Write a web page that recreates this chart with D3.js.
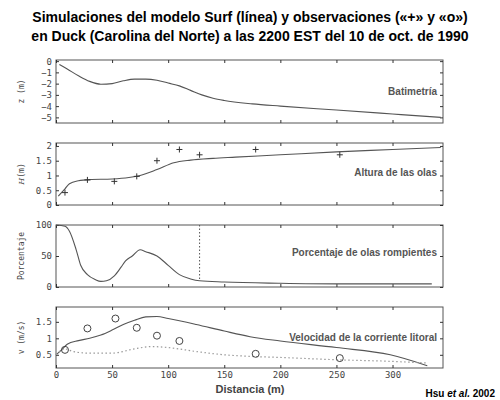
<!DOCTYPE html>
<html><head><meta charset="utf-8">
<script src="https://cdn.jsdelivr.net/npm/d3@7"></script>
<style>body{margin:0;background:#fff}svg{display:block}</style>
</head><body><div id="chart"></div>
<script>
// Data (distance in m)
const bathyX = [3, 10, 20, 30, 40, 50, 60, 70, 80, 90, 100, 110, 120, 130, 140, 150, 175, 200, 250, 300, 343];
const bathyZ = [-0.3, -0.7, -1.3, -1.8, -2.05, -2.0, -1.75, -1.6, -1.6, -1.7, -1.95, -2.2, -2.6, -3.0, -3.3, -3.5, -3.8, -4.0, -4.35, -4.7, -5.0];

const waveX = [2, 8, 12, 20, 30, 50, 65, 75, 90, 105, 120, 140, 160, 200, 250, 300, 343];
const waveH = [0.3, 0.55, 0.72, 0.82, 0.86, 0.88, 0.93, 1.0, 1.2, 1.43, 1.52, 1.58, 1.62, 1.7, 1.8, 1.88, 1.95];
const waveObsX = [8, 28, 52, 72, 90, 110, 128, 178, 253];
const waveObsH = [0.42, 0.85, 0.8, 0.97, 1.5, 1.88, 1.7, 1.88, 1.7];

const breakX = [0, 8, 12, 18, 22, 28, 35, 40, 45, 52, 58, 62, 68, 75, 80, 90, 100, 110, 120, 128, 150, 200, 250, 300, 335];
const breakP = [100, 98, 90, 60, 35, 20, 12, 9, 10, 18, 32, 42, 50, 60, 57, 50, 35, 20, 13, 10, 8, 6, 5, 5, 5];
const breakMark = 128;

const velX = [0, 5, 10, 20, 30, 40, 50, 60, 70, 80, 90, 100, 125, 150, 173, 200, 250, 298, 331];
const velV = [0.5, 0.65, 0.82, 0.93, 1.0, 1.1, 1.25, 1.42, 1.55, 1.65, 1.66, 1.6, 1.42, 1.22, 1.05, 0.92, 0.72, 0.5, 0.17];
const velDotX = [0, 8, 15, 30, 50, 70, 85, 100, 125, 150, 175, 200, 250, 300, 331];
const velDotV = [0.5, 0.68, 0.6, 0.55, 0.55, 0.68, 0.75, 0.72, 0.6, 0.5, 0.45, 0.42, 0.35, 0.3, 0.25];
const velObsX = [8, 28, 53, 72, 90, 110, 178, 253];
const velObsV = [0.65, 1.3, 1.6, 1.32, 1.08, 0.92, 0.53, 0.4];

const xTicks = [0, 50, 100, 150, 200, 250, 300];

const W = 500, H = 400;
const svg = d3.select("#chart").append("svg").attr("width", W).attr("height", H);
const x = d3.scaleLinear().domain([0, 345]).range([56, 443]);
const GRAY = "#555";
const MONO = "'DejaVu Sans Mono', monospace";

svg.append("text").attr("x", 250).attr("y", 22).attr("text-anchor", "middle")
	.style("font-family", "Arial, 'Liberation Sans', sans-serif").style("font-size", "14px").style("font-weight", 700)
	.text("Simulaciones del modelo Surf (línea) y observaciones («+» y «o»)");
svg.append("text").attr("x", 250).attr("y", 41).attr("text-anchor", "middle")
	.style("font-family", "Arial, 'Liberation Sans', sans-serif").style("font-size", "14px").style("font-weight", 700)
	.text("en Duck (Carolina del Norte) a las 2200 EST del 10 de oct. de 1990");

function panel(top, bottom, domain, ticks, fmt, ylabel, label, labelY, italicH) {
	const y = d3.scaleLinear().domain(domain).range([bottom, top]);
	const g = svg.append("g");
	g.append("rect").attr("x", 56).attr("y", top).attr("width", 387).attr("height", bottom - top)
		.attr("fill", "none").attr("stroke", GRAY).attr("stroke-width", 1);
	const axL = g.append("g").attr("transform", "translate(56,0)")
		.call(d3.axisLeft(y).tickValues(ticks).tickFormat(fmt).tickSize(-3).tickPadding(4));
	const axR = g.append("g").attr("transform", "translate(443,0)")
		.call(d3.axisRight(y).tickValues(ticks).tickFormat("").tickSize(-3));
	const axT = g.append("g").attr("transform", `translate(0,${top})`)
		.call(d3.axisBottom(x).tickValues(xTicks).tickFormat("").tickSize(3));
	const axB = g.append("g").attr("transform", `translate(0,${bottom})`)
		.call(d3.axisTop(x).tickValues(xTicks).tickFormat("").tickSize(3));
	[axL, axR, axT, axB].forEach(a => {
		a.select(".domain").remove();
		a.selectAll("line").attr("stroke", "#333");
		a.selectAll("text").style("font-family", MONO).style("font-size", "9px").attr("fill", "#444");
	});
	const yl = g.append("text").attr("transform", `translate(24,${(top + bottom) / 2}) rotate(-90)`)
		.attr("text-anchor", "middle").style("font-family", MONO).style("font-size", "8px").attr("fill", "#444");
	if (italicH) {
		yl.append("tspan").style("font-style", "italic").style("font-family", "'DejaVu Serif', serif").text("H");
		yl.append("tspan").text("(m)");
	} else yl.text(ylabel);
	g.append("text").attr("x", 437).attr("y", labelY).attr("text-anchor", "end")
		.style("font-family", "Arial, 'Liberation Sans', sans-serif").style("font-size", "10px").style("font-weight", 700)
		.attr("fill", "#555").text(label);
	return y;
}

function line(y, xs, ys, dash) {
	svg.append("path")
		.attr("d", d3.line().curve(d3.curveMonotoneX).x((d, i) => x(xs[i])).y(d => y(d))(ys))
		.attr("fill", "none").attr("stroke", dash ? "#999" : GRAY).attr("stroke-width", dash ? 1.2 : 1.1)
		.attr("stroke-dasharray", dash ? "1.5,2.5" : null);
}

// Panel 1: bathymetry
const y1 = panel(60, 123, [-5.5, 0.1], [0, -1, -2, -3, -4, -5], d3.format("d"), "z (m)", "Batimetría", 95);
line(y1, bathyX, bathyZ);

// Panel 2: wave height
const y2 = panel(143, 205, [0, 2.1], [0, 0.5, 1, 1.5, 2], d => d, "", "Altura de las olas", 176, true);
line(y2, waveX, waveH);
svg.append("g").selectAll("path").data(waveObsX).join("path")
	.attr("d", (d, i) => `M${x(d) - 3},${y2(waveObsH[i])}h6M${x(d)},${y2(waveObsH[i]) - 3}v6`)
	.attr("stroke", "#333").attr("stroke-width", 1);

// Panel 3: percentage breaking
const y3 = panel(225, 287, [0, 100], [0, 50, 100], d3.format("d"), "Porcentaje", "Porcentaje de olas rompientes", 256);
line(y3, breakX, breakP);
svg.append("line").attr("x1", x(breakMark)).attr("x2", x(breakMark)).attr("y1", 225).attr("y2", y3(10))
	.attr("stroke", "#555").attr("stroke-dasharray", "1.5,2");

// Panel 4: longshore current
const y4 = panel(307, 368, [0.1, 1.95], [0.5, 1, 1.5], d => d, "v (m/s)", "Velocidad de la corriente litoral", 341);
line(y4, velX, velV);
line(y4, velDotX, velDotV, true);
svg.append("g").selectAll("circle").data(velObsX).join("circle")
	.attr("cx", d => x(d)).attr("cy", (d, i) => y4(velObsV[i])).attr("r", 3.5)
	.attr("fill", "none").attr("stroke", "#444").attr("stroke-width", 1);

svg.append("g").attr("transform", "translate(0,368)")
	.call(d3.axisBottom(x).tickValues(xTicks).tickSize(0).tickPadding(4))
	.call(a => a.select(".domain").remove())
	.selectAll("text").style("font-family", MONO).style("font-size", "9px").attr("fill", "#444");

svg.append("text").attr("x", 250).attr("y", 393).attr("text-anchor", "middle")
	.style("font-family", "Arial, 'Liberation Sans', sans-serif").style("font-size", "11px").style("font-weight", 700)
	.attr("fill", "#444").text("Distancia (m)");

const cite = svg.append("text").attr("x", 495).attr("y", 397).attr("text-anchor", "end")
	.style("font-family", "Arial, 'Liberation Sans', sans-serif").style("font-size", "10px").style("font-weight", 700);
cite.append("tspan").text("Hsu ");
cite.append("tspan").style("font-style", "italic").text("et al.");
cite.append("tspan").text(" 2002");
</script></body></html>
